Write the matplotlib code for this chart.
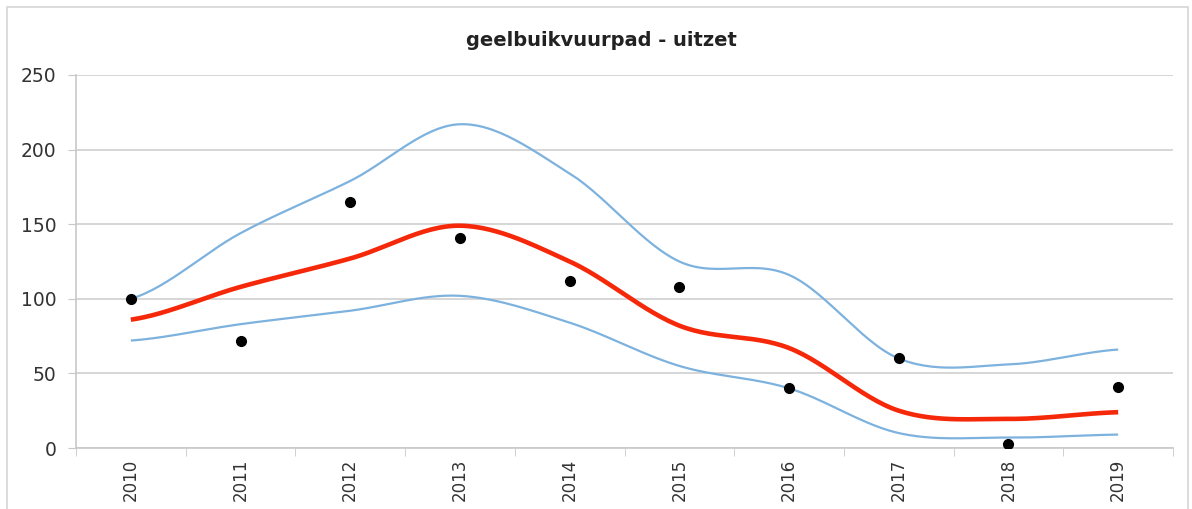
import numpy as np
import matplotlib

matplotlib.use("Agg")
import matplotlib.pyplot as plt  # noqa: E402
from matplotlib.patches import Rectangle  # noqa: E402
from matplotlib.ticker import FixedLocator, NullFormatter  # noqa: E402

years = [2010, 2011, 2012, 2013, 2014, 2015, 2016, 2017, 2018, 2019]
observed = [100, 72, 165, 141, 112, 108, 40, 60, 3, 41]
trend = [86, 108, 127, 149, 125, 82, 67, 25, 19.5, 24]
upper = [100, 144, 179, 217, 184, 125, 116, 60, 56, 66]
lower = [72, 83, 92, 102, 84, 55, 40, 10, 7, 9]

BLUE, RED = "#7db2de", "#f5280a"


def smooth(y, n=30):
    # Catmull-Rom through the points, like Excel's "smoothed line"
    y = np.asarray(y, float)
    p = np.concatenate([[y[0]], y, [y[-1]]])
    xs, ys = [], []
    for i in range(len(y) - 1):
        p0, p1, p2, p3 = p[i], p[i + 1], p[i + 2], p[i + 3]
        t = np.linspace(0, 1, n, endpoint=False)
        yy = 0.5 * (2 * p1 + (-p0 + p2) * t + (2 * p0 - 5 * p1 + 4 * p2 - p3) * t**2
                    + (-p0 + 3 * p1 - 3 * p2 + p3) * t**3)
        xs.append(i + t); ys.append(yy)
    xs.append([len(y) - 1]); ys.append([y[-1]])
    return np.concatenate(xs), np.concatenate(ys)


fig = plt.figure(figsize=(11.92, 5.09), dpi=100)
fig.patches.append(Rectangle((7 / 1192, -0.01), 1181 / 1192, 1 - 7 / 509 + 0.01,
                             transform=fig.transFigure, fill=False, ec="#d6d6d6", lw=1.2))
ax = fig.add_axes([76 / 1192, 1 - 448 / 509, 1097 / 1192, 373 / 509])

x = np.arange(len(years))
for series, c, lw, z in [(upper, BLUE, 1.6, 2), (lower, BLUE, 1.6, 2), (trend, RED, 3.3, 3)]:
    sx, sy = smooth(series)
    ax.plot(sx, sy, color=c, lw=lw, zorder=z, solid_capstyle="butt")
ax.plot(x, observed, "o", color="black", ms=7, zorder=4)

ax.set_xlim(-0.5, len(years) - 0.5)
ax.set_ylim(0, 250)
ax.set_yticks(range(0, 251, 50))
ax.set_xticks(x)
ax.set_xticklabels([str(y) for y in years], rotation=90, fontsize=12, color="#333333")
ax.xaxis.set_minor_locator(FixedLocator(np.arange(-0.5, len(years), 1)))
ax.xaxis.set_minor_formatter(NullFormatter())
ax.tick_params(axis="x", which="major", length=0, pad=8)
ax.tick_params(axis="x", which="minor", length=6, color="#c8c8c8")
ax.tick_params(axis="y", length=6, color="#c8c8c8", labelsize=13.5, labelcolor="#333333", pad=8)
ax.grid(axis="y", color="#cfcfcf", lw=1.2)
ax.set_axisbelow(True)
for s in ["top", "right"]:
    ax.spines[s].set_visible(False)
for s in ["left", "bottom"]:
    ax.spines[s].set_color("#c8c8c8")
    ax.spines[s].set_linewidth(1.2)

fig.text(601 / 1192, 1 - 40 / 509, "geelbuikvuurpad - uitzet", ha="center", va="center",
         fontsize=14, fontweight="bold", color="#222222")

fig.savefig("out.png", dpi=100)
